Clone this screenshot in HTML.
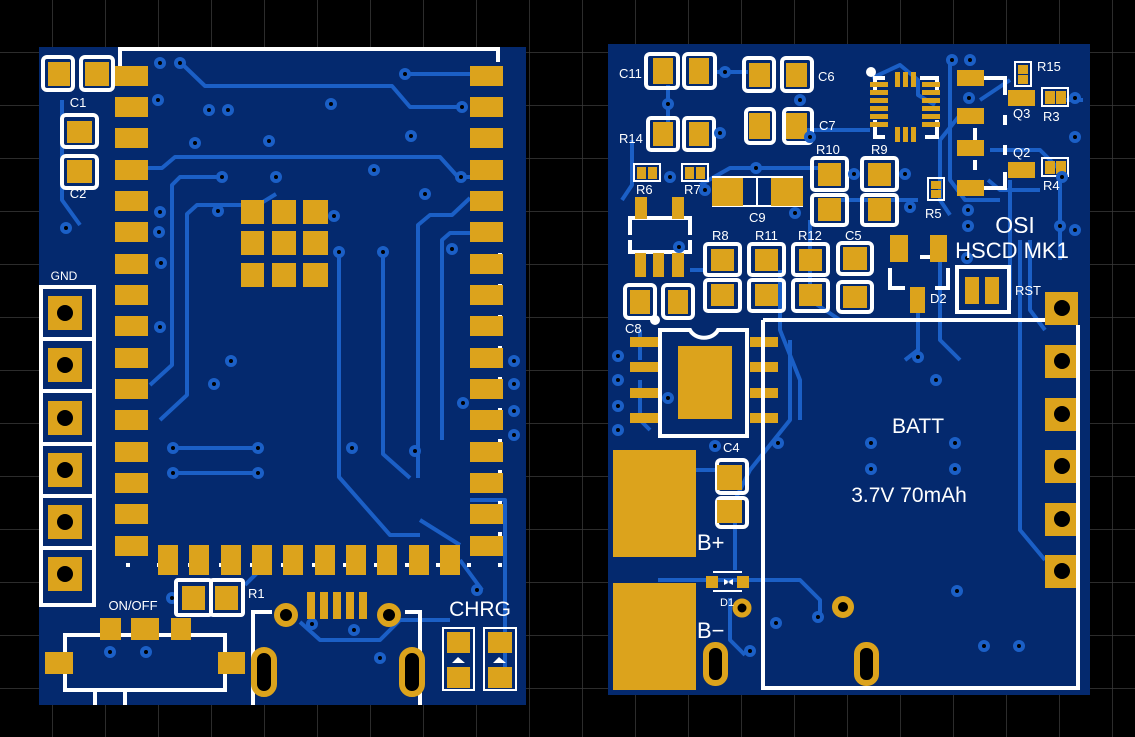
<!DOCTYPE html>
<html><head><meta charset="utf-8"><style>
html,body{margin:0;padding:0;background:#000;width:1135px;height:737px;overflow:hidden}
svg{display:block}
.p{fill:#dca31c}
.s{stroke:#fff;stroke-width:4;fill:none}
.s2{stroke:#fff;stroke-width:2;fill:none}
.t{stroke:#1b5fc6;stroke-width:4;fill:none;stroke-linejoin:round}
.v{fill:#000;stroke:#1b5fc6;stroke-width:4}
text{font-family:"Liberation Sans",sans-serif;fill:#fff}
</style></head><body>
<svg width="1135" height="737" viewBox="0 0 1135 737" xmlns="http://www.w3.org/2000/svg">
<defs>
<pattern id="g" width="53" height="53" patternUnits="userSpaceOnUse" x="0" y="0">
<path d="M53 0V53M0 53H53" stroke="#3a3a3a" stroke-width="1.5" fill="none"/>
</pattern>
</defs>
<rect width="1135" height="737" fill="#000"/>
<rect width="1135" height="737" fill="url(#g)"/>

<!-- BOARD 1 -->
<rect x="39" y="47" width="487" height="658" fill="#04296e"/>
<!-- traces board1 -->
<g class="t">
<path d="M180 62L205 86H392L410 107H462"/>
<path d="M405 74H470"/>
<path d="M148 168H162L175 157H440L458 177H470"/>
<path d="M222 177H180L172 185V365L150 385"/>
<path d="M276 194L258 205H197L187 214V395L160 420"/>
<path d="M339 252V477L390 535H420"/>
<path d="M383 252V454L410 478"/>
<path d="M418 478V225L430 215H452L470 198"/>
<path d="M442 440V240L450 233H470"/>
<path d="M173 448H258M173 473H258"/>
<path d="M470 500H505V680"/>
<path d="M62 100V200L80 225"/>
<path d="M300 622L320 640H380L400 620H450"/>
<path d="M245 585L270 560"/>
<path d="M460 560L482 590"/>
<path d="M420 520L460 545"/>
</g>
<!-- module silk -->
<path class="s" d="M120 70V49H498V62"/>
<path d="M120 75V565H500V80" stroke="#fff" stroke-width="4" fill="none" stroke-dasharray="4 27"/>
<!-- module pads -->
<g class="p">
<rect x="115" y="66" width="33" height="20"/><rect x="115" y="97" width="33" height="20"/><rect x="115" y="128" width="33" height="20"/><rect x="115" y="160" width="33" height="20"/><rect x="115" y="191" width="33" height="20"/><rect x="115" y="222" width="33" height="20"/><rect x="115" y="254" width="33" height="20"/><rect x="115" y="285" width="33" height="20"/><rect x="115" y="316" width="33" height="20"/><rect x="115" y="348" width="33" height="20"/><rect x="115" y="379" width="33" height="20"/><rect x="115" y="410" width="33" height="20"/><rect x="115" y="442" width="33" height="20"/><rect x="115" y="473" width="33" height="20"/><rect x="115" y="504" width="33" height="20"/><rect x="115" y="536" width="33" height="20"/>
<rect x="470" y="66" width="33" height="20"/><rect x="470" y="97" width="33" height="20"/><rect x="470" y="128" width="33" height="20"/><rect x="470" y="160" width="33" height="20"/><rect x="470" y="191" width="33" height="20"/><rect x="470" y="222" width="33" height="20"/><rect x="470" y="254" width="33" height="20"/><rect x="470" y="285" width="33" height="20"/><rect x="470" y="316" width="33" height="20"/><rect x="470" y="348" width="33" height="20"/><rect x="470" y="379" width="33" height="20"/><rect x="470" y="410" width="33" height="20"/><rect x="470" y="442" width="33" height="20"/><rect x="470" y="473" width="33" height="20"/><rect x="470" y="504" width="33" height="20"/><rect x="470" y="536" width="33" height="20"/>
<rect x="158" y="545" width="20" height="30"/><rect x="189" y="545" width="20" height="30"/><rect x="221" y="545" width="20" height="30"/><rect x="252" y="545" width="20" height="30"/><rect x="283" y="545" width="20" height="30"/><rect x="315" y="545" width="20" height="30"/><rect x="346" y="545" width="20" height="30"/><rect x="377" y="545" width="20" height="30"/><rect x="409" y="545" width="20" height="30"/><rect x="440" y="545" width="20" height="30"/>
<rect x="241" y="200" width="23" height="24"/><rect x="272" y="200" width="24" height="24"/><rect x="303" y="200" width="25" height="24"/>
<rect x="241" y="231" width="23" height="24"/><rect x="272" y="231" width="24" height="24"/><rect x="303" y="231" width="25" height="24"/>
<rect x="241" y="263" width="23" height="24"/><rect x="272" y="263" width="24" height="24"/><rect x="303" y="263" width="25" height="24"/>
</g>
<!-- C1 C2 -->
<rect class="s" x="43" y="57" width="30" height="33" rx="4"/><rect class="s" x="81" y="57" width="32" height="33" rx="4"/>
<rect class="p" x="48" y="62" width="22" height="24"/><rect class="p" x="85" y="62" width="24" height="24"/>
<text x="78" y="107" font-size="13" text-anchor="middle">C1</text>
<rect class="s" x="62" y="115" width="35" height="32" rx="4"/><rect class="s" x="62" y="156" width="35" height="32" rx="4"/>
<rect class="p" x="67" y="121" width="25" height="22"/><rect class="p" x="67" y="160" width="25" height="23"/>
<text x="78" y="198" font-size="13" text-anchor="middle">C2</text>
<!-- GND header -->
<text x="64" y="280" font-size="12" text-anchor="middle">GND</text>
<rect class="s" x="41" y="287" width="53" height="318"/>
<path class="s" d="M41 339H94M41 391H94M41 444H94M41 496H94M41 548H94"/>
<g class="p"><rect x="48" y="296" width="34" height="34"/><rect x="48" y="348" width="34" height="34"/><rect x="48" y="401" width="34" height="34"/><rect x="48" y="453" width="34" height="34"/><rect x="48" y="505" width="34" height="34"/><rect x="48" y="557" width="34" height="34"/></g>
<g fill="#000"><circle cx="65" cy="313" r="8"/><circle cx="65" cy="365" r="8"/><circle cx="65" cy="418" r="8"/><circle cx="65" cy="470" r="8"/><circle cx="65" cy="522" r="8"/><circle cx="65" cy="574" r="8"/></g>
<!-- vias board1 -->
<g class="v">
<circle cx="160" cy="63" r="4"/><circle cx="180" cy="63" r="4"/><circle cx="158" cy="100" r="4"/><circle cx="209" cy="110" r="4"/><circle cx="228" cy="110" r="4"/><circle cx="331" cy="104" r="4"/><circle cx="195" cy="143" r="4"/><circle cx="269" cy="141" r="4"/><circle cx="411" cy="136" r="4"/><circle cx="405" cy="74" r="4"/><circle cx="462" cy="107" r="4"/><circle cx="374" cy="170" r="4"/><circle cx="461" cy="177" r="4"/><circle cx="425" cy="194" r="4"/><circle cx="222" cy="177" r="4"/><circle cx="276" cy="177" r="4"/><circle cx="218" cy="211" r="4"/><circle cx="334" cy="216" r="4"/><circle cx="339" cy="252" r="4"/><circle cx="383" cy="252" r="4"/><circle cx="452" cy="249" r="4"/><circle cx="160" cy="212" r="4"/><circle cx="159" cy="232" r="4"/><circle cx="161" cy="263" r="4"/><circle cx="160" cy="327" r="4"/><circle cx="231" cy="361" r="4"/><circle cx="214" cy="384" r="4"/><circle cx="173" cy="448" r="4"/><circle cx="258" cy="448" r="4"/><circle cx="173" cy="473" r="4"/><circle cx="258" cy="473" r="4"/><circle cx="352" cy="448" r="4"/><circle cx="415" cy="451" r="4"/><circle cx="463" cy="403" r="4"/><circle cx="514" cy="361" r="4"/><circle cx="514" cy="384" r="4"/><circle cx="514" cy="411" r="4"/><circle cx="514" cy="435" r="4"/><circle cx="66" cy="228" r="4"/><circle cx="95" cy="714" r="0"/><circle cx="172" cy="598" r="4"/><circle cx="110" cy="652" r="4"/><circle cx="146" cy="652" r="4"/><circle cx="312" cy="624" r="4"/><circle cx="354" cy="630" r="4"/><circle cx="380" cy="658" r="4"/><circle cx="477" cy="590" r="4"/>
</g>
<!-- R1 -->
<rect class="s" x="176" y="580" width="35" height="35" rx="2"/><rect class="s" x="211" y="580" width="32" height="35" rx="2"/>
<rect class="p" x="182" y="586" width="23" height="24"/><rect class="p" x="215" y="586" width="23" height="24"/>
<text x="248" y="598" font-size="13">R1</text>
<!-- ON/OFF switch -->
<text x="133" y="610" font-size="13" text-anchor="middle">ON/OFF</text>
<path class="s" d="M65 660V690H225V635H65V660M95 690V705M125 690V705"/>
<g class="p"><rect x="100" y="618" width="21" height="22"/><rect x="131" y="618" width="28" height="22"/><rect x="171" y="618" width="20" height="22"/><rect x="45" y="652" width="28" height="22"/><rect x="218" y="652" width="27" height="22"/></g>
<!-- USB -->
<path class="s" d="M253 705V612H272M420 705V612H405"/>
<g class="p"><rect x="307" y="592" width="8" height="27"/><rect x="320" y="592" width="8" height="27"/><rect x="333" y="592" width="8" height="27"/><rect x="346" y="592" width="8" height="27"/><rect x="359" y="592" width="8" height="27"/></g>
<circle cx="286" cy="615" r="9" fill="#000" stroke="#dca31c" stroke-width="6"/>
<circle cx="389" cy="615" r="9" fill="#000" stroke="#dca31c" stroke-width="6"/>
<rect x="254" y="650" width="20" height="44" rx="10" fill="#000" stroke="#dca31c" stroke-width="6"/>
<rect x="402" y="650" width="20" height="44" rx="10" fill="#000" stroke="#dca31c" stroke-width="6"/>
<!-- CHRG -->
<text x="480" y="616" font-size="21" text-anchor="middle">CHRG</text>
<path class="s2" d="M443 628H474V690H443ZM484 628H516V690H484Z"/>
<g class="p"><rect x="447" y="632" width="23" height="21"/><rect x="447" y="667" width="23" height="21"/><rect x="488" y="632" width="24" height="21"/><rect x="488" y="667" width="24" height="21"/></g>
<path d="M452 663L458 657L465 663ZM493 663L499 657L506 663Z" fill="#fff"/>

<!-- BOARD 2 -->
<rect x="608" y="44" width="482" height="651" fill="#04296e"/>
<g class="t">
<path d="M713 72H748"/>
<path d="M668 85V122"/>
<path d="M700 185L730 168H820L840 180"/>
<path d="M622 200L632 185V140"/>
<path d="M805 130H870"/>
<path d="M872 78L900 65L918 80V95L935 105"/>
<path d="M980 100L1010 80"/>
<path d="M990 150L1040 150L1060 170V260"/>
<path d="M960 115L940 140V200L950 215"/>
<path d="M988 180L1000 190H1040"/>
<path d="M950 60V180L965 200H1000"/>
<path d="M840 200H918"/>
<path d="M706 270H690"/>
<path d="M780 270V330L800 380V420"/>
<path d="M810 220V300L840 320"/>
<path d="M940 262V340L960 360"/>
<path d="M918 300V350L905 360"/>
<path d="M1010 180V300"/>
<path d="M1020 240V530L1045 560"/>
<path d="M1045 330L1030 310V240"/>
<path d="M790 340V420L750 470L735 500L735 570"/>
<path d="M695 470H717"/>
<path d="M658 580H740H800L820 600V615"/>
<path d="M730 598V640L745 655"/>
<path d="M640 330V360M640 380V420L650 430"/>
<path d="M1065 100L1083 100"/>
</g>
<!-- C11 R14 C6 C7 -->
<g class="s">
<rect x="646" y="54" width="32" height="34" rx="4"/><rect x="684" y="54" width="31" height="34" rx="4"/>
<rect x="648" y="118" width="30" height="32" rx="3"/><rect x="684" y="118" width="30" height="32" rx="3"/>
<rect x="744" y="58" width="30" height="33" rx="4"/><rect x="782" y="58" width="30" height="33" rx="4"/>
<rect x="746" y="109" width="28" height="34" rx="4"/><rect x="784" y="109" width="28" height="34" rx="4"/>
<rect x="812" y="158" width="35" height="32" rx="3"/><rect x="812" y="195" width="35" height="30" rx="3"/>
<rect x="862" y="158" width="35" height="32" rx="3"/><rect x="862" y="195" width="35" height="30" rx="3"/>
<rect x="705" y="244" width="35" height="31" rx="3"/><rect x="705" y="280" width="35" height="31" rx="3"/>
<rect x="749" y="244" width="35" height="31" rx="3"/><rect x="749" y="280" width="35" height="31" rx="3"/>
<rect x="793" y="244" width="35" height="31" rx="3"/><rect x="793" y="280" width="35" height="31" rx="3"/>
<rect x="838" y="243" width="34" height="31" rx="4"/><rect x="838" y="282" width="34" height="30" rx="4"/>
<rect x="625" y="285" width="30" height="33" rx="4"/><rect x="663" y="285" width="30" height="33" rx="4"/>
<rect x="717" y="460" width="30" height="33" rx="4"/><rect x="717" y="498" width="30" height="29" rx="4"/>
<rect x="957" y="267" width="52" height="45"/>
<path d="M630 235V218H690V235M630 240V252H690V240"/>
<path d="M890 268V288H905M948 268V288H935M935 257H920"/>
<path d="M875 95V78H885M920 78H937V95M875 120V137H885M937 120V137H925"/>
<path d="M960 78H1005V95M960 188H1005V172M1005 125V115M1005 145V155M975 128V140M975 160V170"/>
</g>
<path class="s2" d="M712 177H803M712 206H803M757 177V206"/>
<g class="s2"><rect x="634" y="164" width="26" height="17"/><rect x="682" y="164" width="26" height="17"/><rect x="928" y="178" width="16" height="22"/><rect x="1015" y="62" width="16" height="24"/><rect x="1042" y="88" width="26" height="18"/><rect x="1042" y="158" width="26" height="18"/></g>
<g class="p">
<rect x="653" y="58" width="20" height="26"/><rect x="689" y="58" width="20" height="26"/>
<rect x="653" y="122" width="20" height="24"/><rect x="689" y="122" width="20" height="24"/>
<rect x="749" y="63" width="21" height="24"/><rect x="786" y="63" width="21" height="24"/>
<rect x="749" y="113" width="21" height="26"/><rect x="786" y="113" width="21" height="26"/>
<rect x="818" y="163" width="23" height="23"/><rect x="818" y="198" width="23" height="23"/>
<rect x="868" y="163" width="23" height="23"/><rect x="868" y="198" width="23" height="23"/>
<rect x="712" y="178" width="31" height="28"/><rect x="771" y="178" width="32" height="28"/>
<rect x="637" y="167" width="9" height="12"/><rect x="648" y="167" width="9" height="12"/>
<rect x="685" y="167" width="9" height="12"/><rect x="696" y="167" width="9" height="12"/>
<rect x="635" y="197" width="12" height="22"/><rect x="672" y="197" width="12" height="22"/>
<rect x="635" y="253" width="11" height="24"/><rect x="653" y="253" width="11" height="24"/><rect x="672" y="253" width="12" height="24"/>
<rect x="711" y="249" width="23" height="22"/><rect x="711" y="284" width="23" height="22"/>
<rect x="755" y="249" width="23" height="22"/><rect x="755" y="284" width="23" height="22"/>
<rect x="799" y="249" width="23" height="22"/><rect x="799" y="284" width="23" height="22"/>
<rect x="843" y="247" width="24" height="23"/><rect x="843" y="286" width="24" height="22"/>
<rect x="630" y="290" width="20" height="24"/><rect x="668" y="290" width="20" height="24"/>
<rect x="890" y="235" width="18" height="27"/><rect x="930" y="235" width="17" height="27"/><rect x="910" y="287" width="15" height="26"/>
<rect x="965" y="277" width="14" height="27"/><rect x="985" y="277" width="14" height="27"/>
<rect x="870" y="82" width="18" height="5"/><rect x="870" y="90" width="18" height="5"/><rect x="870" y="98" width="18" height="5"/><rect x="870" y="106" width="18" height="5"/><rect x="870" y="114" width="18" height="5"/><rect x="870" y="122" width="18" height="5"/>
<rect x="922" y="82" width="18" height="5"/><rect x="922" y="90" width="18" height="5"/><rect x="922" y="98" width="18" height="5"/><rect x="922" y="106" width="18" height="5"/><rect x="922" y="114" width="18" height="5"/><rect x="922" y="122" width="18" height="5"/>
<rect x="895" y="72" width="5" height="15"/><rect x="903" y="72" width="5" height="15"/><rect x="911" y="72" width="5" height="15"/>
<rect x="895" y="127" width="5" height="15"/><rect x="903" y="127" width="5" height="15"/><rect x="911" y="127" width="5" height="15"/>
<rect x="957" y="70" width="27" height="16"/><rect x="957" y="108" width="27" height="16"/><rect x="957" y="140" width="27" height="16"/><rect x="957" y="180" width="27" height="16"/>
<rect x="1008" y="90" width="27" height="16"/><rect x="1008" y="162" width="27" height="16"/>
<rect x="1018" y="65" width="10" height="9"/><rect x="1018" y="75" width="10" height="9"/>
<rect x="1045" y="91" width="10" height="13"/><rect x="1056" y="91" width="10" height="13"/>
<rect x="1045" y="161" width="10" height="13"/><rect x="1056" y="161" width="10" height="13"/>
<rect x="931" y="181" width="10" height="8"/><rect x="931" y="190" width="10" height="8"/>
<rect x="717" y="465" width="25" height="25"/><rect x="717" y="500" width="25" height="23"/>
<rect x="613" y="450" width="83" height="107"/><rect x="613" y="583" width="83" height="107"/>
<rect x="630" y="337" width="28" height="10"/><rect x="630" y="362" width="28" height="10"/><rect x="630" y="388" width="28" height="10"/><rect x="630" y="413" width="28" height="10"/>
<rect x="750" y="337" width="28" height="10"/><rect x="750" y="362" width="28" height="10"/><rect x="750" y="388" width="28" height="10"/><rect x="750" y="413" width="28" height="10"/>
<rect x="678" y="346" width="54" height="73"/>
<rect x="706" y="576" width="12" height="12"/><rect x="737" y="576" width="12" height="12"/>
<rect x="1045" y="292" width="33" height="33"/><rect x="1045" y="345" width="33" height="33"/><rect x="1045" y="398" width="33" height="33"/><rect x="1045" y="450" width="33" height="33"/><rect x="1045" y="503" width="33" height="33"/><rect x="1045" y="555" width="33" height="33"/>
</g>
<g fill="#000"><circle cx="1062" cy="308" r="8"/><circle cx="1062" cy="361" r="8"/><circle cx="1062" cy="414" r="8"/><circle cx="1062" cy="466" r="8"/><circle cx="1062" cy="519" r="8"/><circle cx="1062" cy="571" r="8"/></g>
<path d="M724 579L730 582L724 585ZM733 579L727 582L733 585Z" fill="#fff"/>
<path class="s2" d="M713 572H742M713 591H742"/>
<!-- SOIC silk -->
<path class="s" d="M660 330H690A15 12 0 0 0 718 330H747V436H660Z"/>
<!-- battery silk -->
<path class="s" d="M763 320H1045M763 320V688H1078V325"/>
<circle cx="871" cy="72" r="5" fill="#fff"/>
<circle cx="655" cy="320" r="5" fill="#fff"/>
<!-- holes -->
<circle cx="843" cy="607" r="8" fill="#000" stroke="#dca31c" stroke-width="6"/>
<circle cx="742" cy="608" r="7" fill="#000" stroke="#dca31c" stroke-width="5"/>
<rect x="706" y="645" width="19" height="38" rx="9" fill="#000" stroke="#dca31c" stroke-width="6"/>
<rect x="857" y="645" width="19" height="38" rx="9" fill="#000" stroke="#dca31c" stroke-width="6"/>
<!-- vias board2 -->
<g class="v">
<circle cx="725" cy="72" r="4"/><circle cx="668" cy="104" r="4"/><circle cx="720" cy="133" r="4"/><circle cx="800" cy="100" r="4"/><circle cx="670" cy="177" r="4"/><circle cx="756" cy="168" r="4"/><circle cx="705" cy="190" r="4"/><circle cx="795" cy="213" r="4"/><circle cx="854" cy="174" r="4"/><circle cx="905" cy="174" r="4"/><circle cx="910" cy="207" r="4"/><circle cx="810" cy="137" r="4"/><circle cx="952" cy="60" r="4"/><circle cx="970" cy="60" r="4"/><circle cx="969" cy="98" r="4"/><circle cx="1075" cy="98" r="4"/><circle cx="1075" cy="137" r="4"/><circle cx="1075" cy="230" r="4"/><circle cx="1062" cy="177" r="4"/><circle cx="968" cy="210" r="4"/><circle cx="968" cy="226" r="4"/><circle cx="967" cy="258" r="4"/><circle cx="1060" cy="226" r="4"/><circle cx="679" cy="247" r="4"/><circle cx="918" cy="357" r="4"/><circle cx="936" cy="380" r="4"/><circle cx="618" cy="356" r="4"/><circle cx="618" cy="380" r="4"/><circle cx="618" cy="406" r="4"/><circle cx="618" cy="430" r="4"/><circle cx="668" cy="398" r="4"/><circle cx="715" cy="446" r="4"/><circle cx="778" cy="443" r="4"/><circle cx="871" cy="443" r="4"/><circle cx="955" cy="443" r="4"/><circle cx="871" cy="469" r="4"/><circle cx="955" cy="469" r="4"/><circle cx="957" cy="591" r="4"/><circle cx="818" cy="617" r="4"/><circle cx="776" cy="623" r="4"/><circle cx="750" cy="651" r="4"/><circle cx="984" cy="646" r="4"/><circle cx="1019" cy="646" r="4"/>
</g>
<!-- labels board2 -->
<g font-size="13">
<text x="619" y="78">C11</text><text x="818" y="81">C6</text><text x="819" y="130">C7</text>
<text x="619" y="143">R14</text><text x="816" y="154">R10</text><text x="871" y="154">R9</text>
<text x="636" y="194">R6</text><text x="684" y="194">R7</text><text x="749" y="222">C9</text>
<text x="712" y="240">R8</text><text x="755" y="240">R11</text><text x="798" y="240">R12</text><text x="845" y="240">C5</text>
<text x="625" y="333">C8</text><text x="925" y="218">R5</text><text x="930" y="303">D2</text><text x="1015" y="295">RST</text>
<text x="1037" y="71">R15</text><text x="1013" y="118">Q3</text><text x="1043" y="121">R3</text><text x="1013" y="157">Q2</text><text x="1043" y="190">R4</text>
<text x="723" y="452">C4</text><text x="720" y="606" font-size="11">D1</text>
</g>
<text x="1015" y="233" font-size="23" text-anchor="middle">OSI</text>
<text x="1012" y="258" font-size="22" text-anchor="middle">HSCD  MK1</text>
<text x="918" y="433" font-size="21" text-anchor="middle">BATT</text>
<text x="909" y="502" font-size="21" text-anchor="middle">3.7V  70mAh</text>
<text x="697" y="550" font-size="22">B+</text>
<text x="697" y="638" font-size="22">B−</text>
</svg>
</body></html>
